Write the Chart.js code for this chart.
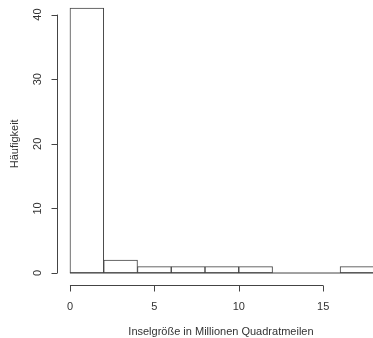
<!DOCTYPE html>
<html>
<head>
<meta charset="utf-8">
<script src="https://cdn.jsdelivr.net/npm/chart.js@4"></script>
<style>
  html, body { margin: 0; padding: 0; background: #fff; overflow: hidden; }
  #wrap { width: 390px; height: 338px; }
</style>
</head>
<body>
<div id="wrap"><canvas id="chartjs" width="390" height="338"></canvas></div>
<script>
/*==== data ====*/
const breaks = [0, 2, 4, 6, 8, 10, 12, 14, 16, 18];
const counts = [41, 2, 1, 1, 1, 1, 0, 0, 1];
const xTicks = [0, 5, 10, 15];
const yTicks = [0, 10, 20, 30, 40];
const xTitle = 'Inselgröße in Millionen Quadratmeilen';
const yTitle = 'Häufigkeit';

var barData = [];
for (var i = 0; i < counts.length; i++) {
    barData.push({ x: (breaks[i] + breaks[i + 1]) / 2, y: counts[i] });
}

/*==== R style axes ====*/
const rAxes = {
    id: 'rAxes',
    afterDraw(chart) {
        const ctx = chart.ctx;
        const xs = chart.scales.x, ys = chart.scales.y;
        ctx.save();
        ctx.strokeStyle = '#444';
        ctx.lineWidth = 1;
        ctx.fillStyle = '#333';
        ctx.font = '11px "Liberation Sans", Arial, sans-serif';

        // x axis
        const xy = 285.5;
        ctx.beginPath();
        ctx.moveTo(xs.getPixelForValue(xTicks[0]), xy);
        ctx.lineTo(xs.getPixelForValue(xTicks[xTicks.length - 1]), xy);
        xTicks.forEach(t => {
            const px = Math.round(xs.getPixelForValue(t)) + 0.5;
            ctx.moveTo(px, xy);
            ctx.lineTo(px, xy + 6);
        });
        ctx.stroke();
        ctx.textAlign = 'center';
        ctx.textBaseline = 'middle';
        xTicks.forEach(t => ctx.fillText(String(t), xs.getPixelForValue(t), 307));
        ctx.fillText(xTitle, xs.getPixelForValue(xTicks[0]) + 151, 332);

        // y axis
        const yx = 57.5;
        ctx.beginPath();
        ctx.moveTo(yx, ys.getPixelForValue(yTicks[0]));
        ctx.lineTo(yx, ys.getPixelForValue(yTicks[yTicks.length - 1]));
        yTicks.forEach(t => {
            const py = Math.round(ys.getPixelForValue(t)) + 0.5;
            ctx.moveTo(yx, py);
            ctx.lineTo(yx - 6, py);
        });
        ctx.stroke();
        yTicks.forEach(t => {
            ctx.save();
            ctx.translate(38, ys.getPixelForValue(t));
            ctx.rotate(-Math.PI / 2);
            ctx.fillText(String(t), 0, 0);
            ctx.restore();
        });
        ctx.save();
        ctx.translate(15, ys.getPixelForValue(20));
        ctx.rotate(-Math.PI / 2);
        ctx.fillText(yTitle, 0, 0);
        ctx.restore();
        ctx.restore();
    }
};

/*==== config ====*/
var config_hist = {
    type: 'bar',
    data: {
        datasets: [
            {
                type: 'line',
                data: [{ x: breaks[0], y: 0 }, { x: breaks[breaks.length - 1], y: 0 }],
                borderColor: '#444',
                borderWidth: 1,
                pointRadius: 0
            },
            {
                data: barData,
                backgroundColor: '#ffffff',
                borderColor: '#444',
                borderWidth: 1,
                borderSkipped: false,
                barPercentage: 1,
                categoryPercentage: 1
            }
        ]
    },
    options: {
        responsive: false,
        animation: false,
        layout: { padding: { left: 57.8, right: 4, top: 0, bottom: 54.4 } },
        plugins: { legend: { display: false }, tooltip: { enabled: false } },
        scales: {
            x: { type: 'linear', display: false, min: -0.72, max: 18.72, offset: false },
            y: { type: 'linear', display: false, min: -1.64, max: 42.26 }
        }
    },
    plugins: [rAxes]
};
var histChart = new Chart(document.querySelector('#chartjs'), config_hist);
</script>
</body>
</html>
